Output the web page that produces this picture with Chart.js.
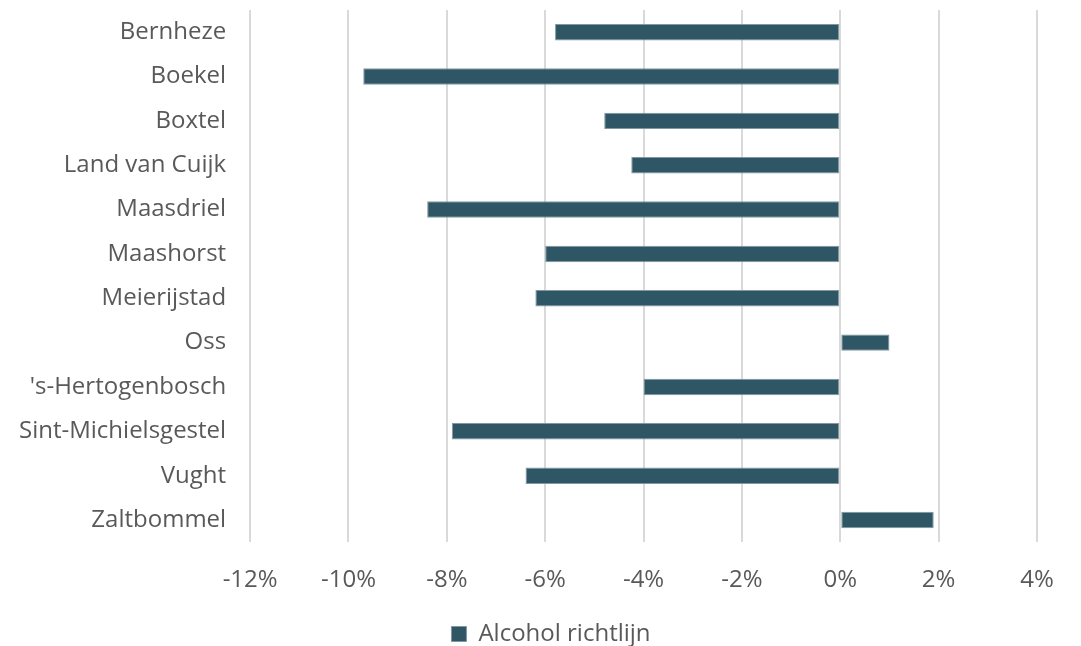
<!DOCTYPE html>
<html>
<head>
<meta charset="utf-8">
<script src="https://cdn.jsdelivr.net/npm/chart.js@4"></script>
<style>
  html, body { margin: 0; padding: 0; background: #ffffff; }
  #wrap { width: 1081px; height: 646px; position: relative; }
</style>
</head>
<body>
<div id="wrap"><canvas id="grafico"></canvas></div>
<script>
const gemeenten = [
  "Bernheze", "Boekel", "Boxtel", "Land van Cuijk", "Maasdriel", "Maashorst",
  "Meierijstad", "Oss", "'s-Hertogenbosch", "Sint-Michielsgestel", "Vught", "Zaltbommel"
];
const alcoholRichtlijn = [-5.8, -9.7, -4.8, -4.25, -8.4, -6.0, -6.2, 1.0, -4.0, -7.9, -6.4, 1.9];
const xTicks = [-12, -10, -8, -6, -4, -2, 0, 2, 4];

const tekstKleur = "#595959";
const fontNaam = "'Open Sans', sans-serif";

new Chart(document.getElementById("grafico"), {
  type: "bar",
  data: {
    labels: gemeenten,
    datasets: [
      {
        label: "Alcohol richtlijn",
        data: alcoholRichtlijn,
        backgroundColor: "#2E5665",
        borderColor: "#8198a2",
        borderWidth: 1,
        borderSkipped: false,
        categoryPercentage: 1,
        barPercentage: 0.37,
      },
    ],
  },
  options: {
    indexAxis: "y",
    responsive: true,
    maintainAspectRatio: false,
    animation: false,
    layout: {
      padding: { top: 10, right: -26, left: -5, bottom: -10 },
    },
    plugins: {
      legend: {
        position: "bottom",
        labels: {
          color: tekstKleur,
          font: { family: fontNaam, size: 24 },
          boxWidth: 15,
          boxHeight: 15,
          padding: 3,
        },
      },
      tooltip: { enabled: false },
    },
    scales: {
      x: {
        min: -12,
        max: 4,
        afterBuildTicks: function (axis) {
          axis.ticks = xTicks.map(function (v) { return { value: v }; });
        },
        afterFit: function (scale) {
          scale.paddingLeft = 0;
          scale.paddingRight = 44;
        },
        ticks: {
          color: tekstKleur,
          font: { family: fontNaam, size: 24 },
          padding: 24,
          callback: function (v) { return v + "%"; },
        },
        grid: {
          color: "#d9d9d9",
          lineWidth: 2,
          drawTicks: false,
        },
        border: { display: false },
      },
      y: {
        afterFit: function (scale) {
          scale.paddingTop = 0;
          scale.paddingBottom = 0;
        },
        ticks: {
          color: tekstKleur,
          font: { family: fontNaam, size: 24 },
          padding: 24,
        },
        grid: { display: false, drawTicks: false },
        border: { display: false },
      },
    },
  },
});
</script>
</body>
</html>
